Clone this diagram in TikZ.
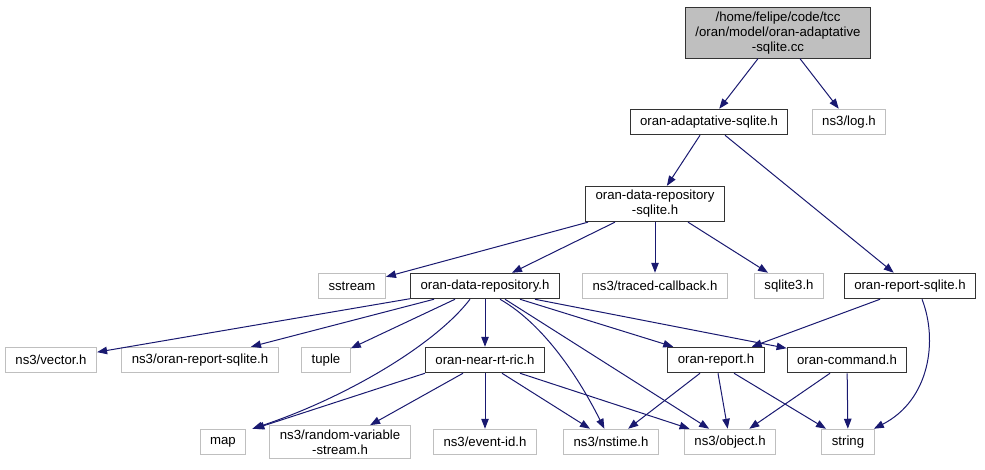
\documentclass[tikz,border=0pt]{standalone}
\usepackage{fontspec}
\setmainfont{Liberation Sans}
\usetikzlibrary{arrows.meta}
\definecolor{edgeblue}{HTML}{191970}
\definecolor{extgray}{HTML}{BFBFBF}

\begin{document}
\begin{tikzpicture}[
    x=1pt, y=-1pt,
    box/.style={rectangle, draw, line width=1pt, minimum height=25.5pt, inner xsep=10pt, inner ysep=4pt, align=center, font=\fontsize{13.2}{15}\selectfont},
    hdr/.style={box, draw=black!80},
    ext/.style={box, draw=extgray},
    top/.style={box, draw=black!80, fill=extgray},
    arrow/.style={-{Triangle[length=10pt, width=7.5pt]}, line width=1pt, draw=edgeblue}
]
\useasboundingbox (0,0) rectangle (985,469);

\node[top] (cc) at (778,33) {/home/felipe/code/tcc\\/oran/model/oran-adaptative\\-sqlite.cc};
\node[hdr] (adapt) at (709,122) {oran-adaptative-sqlite.h};
\node[ext] (log) at (849,122) {ns3/log.h};
\node[hdr] (drs) at (655,204) {oran-data-repository\\-sqlite.h};
\node[ext] (sstream) at (352,286) {sstream};
\node[hdr] (dr) at (485,286) {oran-data-repository.h};
\node[ext] (traced) at (655,286) {ns3/traced-callback.h};
\node[ext] (sqlite) at (789,286) {sqlite3.h};
\node[hdr] (rs) at (910,286) {oran-report-sqlite.h};
\node[ext] (vector) at (51,360) {ns3/vector.h};
\node[ext] (ors) at (200,360) {ns3/oran-report-sqlite.h};
\node[ext] (tuple) at (326,360) {tuple};
\node[hdr] (ric) at (485,360) {oran-near-rt-ric.h};
\node[hdr] (report) at (716,360) {oran-report.h};
\node[hdr] (command) at (847,360) {oran-command.h};
\node[ext] (map) at (223,442) {map};
\node[ext] (rv) at (340,442) {ns3/random-variable\\-stream.h};
\node[ext] (event) at (485,442) {ns3/event-id.h};
\node[ext] (nstime) at (611,442) {ns3/nstime.h};
\node[ext] (object) at (730,442) {ns3/object.h};
\node[ext] (string) at (848,442) {string};

\draw[arrow] ([xshift=-20pt]cc.south) -- (adapt);
\draw[arrow] ([xshift=22pt]cc.south) -- (log);
\draw[arrow] ([xshift=-9pt]adapt.south) -- (drs);
\draw[arrow] ([xshift=16pt]adapt.south) -- (rs);
\draw[arrow] (drs) -- (sstream);
\draw[arrow] ([xshift=-40pt]drs.south) -- (dr);
\draw[arrow] (drs) -- (traced);
\draw[arrow] ([xshift=33pt]drs.south) -- (sqlite);
\draw[arrow] ([xshift=-30pt]rs.south) -- (report);
\draw[arrow] ([xshift=12pt]rs.south) .. controls (938,340) and (930,400) .. (string);
\draw[arrow] (dr) -- (vector);
\draw[arrow] (dr) -- (ors);
\draw[arrow] ([xshift=-30pt]dr.south) -- (tuple);
\draw[arrow] ([xshift=-15pt]dr.south) .. controls (435,345) and (345,398) .. ([xshift=6pt]map.north east);
\draw[arrow] (dr) -- (ric);
\draw[arrow] ([xshift=15pt]dr.south) .. controls (545,325) and (580,380) .. (nstime);
\draw[arrow] ([xshift=20pt]dr.south) -- (object);
\draw[arrow] ([xshift=35pt]dr.south) -- (report);
\draw[arrow] ([xshift=50pt]dr.south) -- (command);
\draw[arrow] (ric.south west) -- ([xshift=8pt]map.north east);
\draw[arrow] ([xshift=-22pt]ric.south) -- (rv);
\draw[arrow] (ric) -- (event);
\draw[arrow] ([xshift=17pt]ric.south) -- (nstime);
\draw[arrow] ([xshift=35pt]ric.south) -- (object);
\draw[arrow] ([xshift=-16pt]report.south) -- (nstime);
\draw[arrow] ([xshift=2pt]report.south) -- (object);
\draw[arrow] ([xshift=18pt]report.south) -- (string);
\draw[arrow] ([xshift=-17pt]command.south) -- (object);
\draw[arrow] (command) -- (string);
\end{tikzpicture}
\end{document}
